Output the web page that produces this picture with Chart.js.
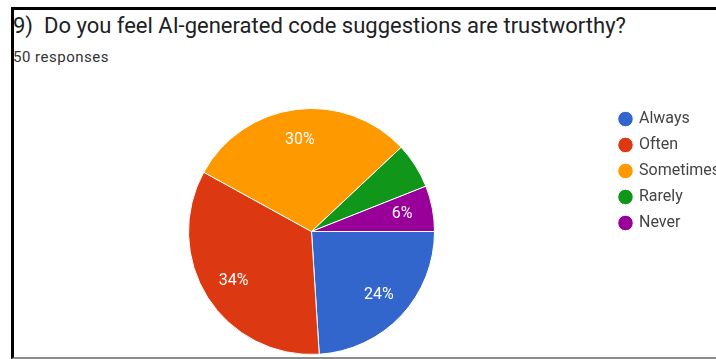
<!DOCTYPE html>
<html>
<head>
<meta charset="utf-8">
<script src="https://cdn.jsdelivr.net/npm/chart.js@4/dist/chart.umd.min.js"></script>
<style>
  html, body { margin: 0; padding: 0; background: #fff; overflow: hidden; }
  body { width: 716px; height: 359px; position: relative; font-family: Roboto, "Noto Sans", sans-serif; }
  .frame {
    position: absolute; left: 11px; top: 7px; width: 705px; height: 352px;
    box-sizing: border-box; overflow: hidden;
    border-left: 3px solid #000; border-top: 3px solid #000; border-bottom: 2px solid #8c8c8c;
  }
  .title {
    position: absolute; left: -1px; top: 5px; white-space: nowrap;
    font-size: 22px; line-height: 22px; color: #202124;
  }
  .subtitle {
    position: absolute; left: -1px; top: 40px; white-space: nowrap;
    font-size: 15px; line-height: 15px; letter-spacing: 0.5px; color: #333;
  }
  .chart-box { position: absolute; left: -1px; top: 80px; width: 703px; height: 272px; }
</style>
</head>
<body>
<div class="frame">
  <div class="title">9)&nbsp; Do you feel AI-generated code suggestions are trustworthy?</div>
  <div class="subtitle">50 responses</div>
  <div class="chart-box"><canvas id="trustChart"></canvas></div>
</div>

<script>
// Antworten pro Kategorie (50 insgesamt)
const answers = ["Always", "Often", "Sometimes", "Rarely", "Never"];
const responses = [12, 17, 15, 3, 3];
const sliceColors = ["#3366CC", "#DC3912", "#FF9900", "#109618", "#990099"];
// Slices zu schmal für Beschriftung
const unlabeled = ["Rarely"];

// Prozentwerte in die Slices schreiben
const pctLabels = {
    id: "pctLabels",
    afterDatasetsDraw(chart) {
        const ctx = chart.ctx;
        const meta = chart.getDatasetMeta(0);
        const data = chart.data.datasets[0].data;
        const total = data.reduce((a, b) => a + b, 0);

        ctx.save();
        ctx.font = "16px Roboto, 'Noto Sans', sans-serif";
        ctx.fillStyle = "#ffffff";
        ctx.textAlign = "center";
        ctx.textBaseline = "middle";
        meta.data.forEach((arc, i) => {
            if (unlabeled.includes(chart.data.labels[i])) return;
            const p = arc.getProps(["x", "y", "startAngle", "endAngle", "outerRadius"], true);
            const mid = (p.startAngle + p.endAngle) / 2;
            const r = p.outerRadius * 0.75;
            const pct = Math.round(data[i] / total * 100) + "%";
            ctx.fillText(pct, p.x + Math.cos(mid) * r, p.y + Math.sin(mid) * r);
        });
        ctx.restore();
    }
};

new Chart(document.getElementById("trustChart"), {
    type: "pie",
    data: {
        labels: answers,
        datasets: [{
            data: responses,
            backgroundColor: sliceColors,
            borderColor: "#ffffff",
            borderWidth: 1,
            radius: 123
        }]
    },
    options: {
        responsive: true,
        maintainAspectRatio: false,
        animation: false,
        rotation: 90,   // start at 3 o'clock like Google Forms
        layout: {
            padding: { left: 0, right: 0, top: 11, bottom: 0 }
        },
        plugins: {
            tooltip: { enabled: false },
            legend: {
                position: "right",
                align: "start",
                maxWidth: 106,
                labels: {
                    usePointStyle: true,
                    pointStyle: "circle",
                    boxWidth: 11,
                    boxHeight: 11,
                    padding: 10,
                    color: "#444",
                    font: { family: "Roboto", size: 16 }
                }
            }
        }
    },
    plugins: [pctLabels]
});
</script>
</body>
</html>
